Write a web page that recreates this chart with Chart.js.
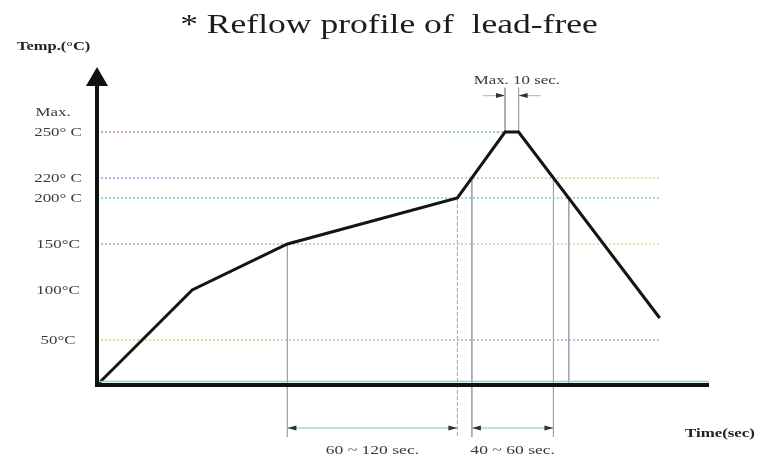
<!DOCTYPE html>
<html>
<head>
<meta charset="utf-8">
<title>Reflow profile of lead-free</title>
<script src="https://cdn.jsdelivr.net/npm/chart.js@4.4.1/dist/chart.umd.min.js"></script>
<style>
  html, body { margin: 0; padding: 0; background: #fff; }
  #box { width: 764px; height: 461px; }
</style>
</head>
<body>
<div id="box"><canvas id="perfil"></canvas></div>
<script>
// reflow profile: time (sec) and temperature (°C)
var profileTime = [0, 56, 112, 212, 240, 248, 331];
var profileTemp = [0, 100, 150, 200, 250, 250, 72];

// labels on the temperature axis
var tempTicks = [50, 100, 150, 200, 220, 250];
var tempLabels = ['50°C', '100°C', '150°C', '200° C', '220° C', '250° C'];

// dotted guide lines: temperature and the time where they stop
var guideTemp = [250, 220, 200, 150, 50];
var guideEnd = [240, 331, 331, 331, 331];
var guideLeft = ['#c4789a', '#7f9fdc', '#6ccad6', '#9aa8cc', '#d6d66c'];
var guideRight = ['#44c6c8', '#dada88', '#92c8dc', '#dedc8e', '#c892d8'];

// thin vertical marks: time, from temp, to temp
var markTime = [112, 212, 220.5, 268.5, 277.5, 240, 248];
var markTop = [150, 200, 220, 220, 200, 295, 295];
var markBottom = [-52, -52, -52, -52, 0, 250, 250];

// time windows shown under the axis
var spanStart = [112, 220.5];
var spanEnd = [212, 268.5];
var spanText = ['60 ~ 120 sec.', '40 ~ 60 sec.'];

// peak window above the curve
var peakStart = 240;
var peakEnd = 248;

// the drawing is not to scale: temperature -> height steps
var escalaT = [-60, 0, 50, 100, 150, 200, 220, 250, 320];
var escalaU = [-60, 0, 45, 95, 141, 187, 207, 253, 322];

function interp(v, from, to) {
    for (var i = 1; i < from.length; i++) {
        if (v <= from[i] || i === from.length - 1) {
            var f = (v - from[i - 1]) / (from[i] - from[i - 1]);
            return to[i - 1] + f * (to[i] - to[i - 1]);
        }
    }
}

class TempScale extends Chart.LinearScale {
    getPixelForValue(value) {
        if (value === null || isNaN(value)) return NaN;
        var lo = interp(this.min, escalaT, escalaU);
        var hi = interp(this.max, escalaT, escalaU);
        return this.getPixelForDecimal((interp(value, escalaT, escalaU) - lo) / (hi - lo));
    }
    getValueForPixel(pixel) {
        var lo = interp(this.min, escalaT, escalaU);
        var hi = interp(this.max, escalaT, escalaU);
        return interp(lo + this.getDecimalForPixel(pixel) * (hi - lo), escalaU, escalaT);
    }
}
TempScale.id = 'temp';
TempScale.defaults = {};
Chart.register(TempScale);

var SERIF = '"Liberation Serif", "Times New Roman", serif';

function gradientFor(c1, c2) {
    return function (context) {
        var chart = context.chart;
        var area = chart.chartArea;
        if (!area) return c1;
        var g = chart.ctx.createLinearGradient(area.left, 0, area.right - 60, 0);
        g.addColorStop(0, c1);
        g.addColorStop(1, c2);
        return g;
    };
}

var datasets = [{
    label: 'Reflow profile',
    data: profileTime.map(function (t, i) { return { x: t, y: profileTemp[i] }; }),
    borderColor: '#141414',
    borderWidth: 3,
    borderJoinStyle: 'miter',
    pointRadius: 0
}];

guideTemp.forEach(function (t, i) {
    datasets.push({
        data: [{ x: 0, y: t }, { x: guideEnd[i], y: t }],
        borderColor: gradientFor(guideLeft[i], guideRight[i]),
        borderWidth: 1.4,
        borderDash: [2, 2],
        pointRadius: 0
    });
});

markTime.forEach(function (t, i) {
    datasets.push({
        data: [{ x: t, y: markTop[i] }, { x: t, y: markBottom[i] }],
        borderColor: '#a2a2b2',
        borderWidth: 1,
        borderDash: i === 1 ? [4, 2] : [],
        pointRadius: 0
    });
});

function arrowHead(ctx, x, y, dir) {
    ctx.beginPath();
    ctx.moveTo(x, y);
    ctx.lineTo(x - dir * 9, y - 2.5);
    ctx.lineTo(x - dir * 9, y + 2.5);
    ctx.closePath();
    ctx.fill();
}

function dimension(ctx, xa, xb, y, color) {
    ctx.strokeStyle = color;
    ctx.lineWidth = 1.3;
    ctx.beginPath();
    ctx.moveTo(xa, y);
    ctx.lineTo(xb, y);
    ctx.stroke();
    ctx.fillStyle = '#333';
    arrowHead(ctx, xa, y, -1);
    arrowHead(ctx, xb, y, 1);
}

// the scan is wider than tall, so text is stretched sideways
function texto(ctx, str, x, y, stretch) {
    ctx.save();
    ctx.translate(x, y);
    ctx.scale(stretch, 1);
    ctx.fillText(str, 0, 0);
    ctx.restore();
}

var extras = {
    id: 'extras',
    afterDatasetsDraw: function (chart) {
        var ctx = chart.ctx, sx = chart.scales.x, sy = chart.scales.y;
        var x0 = sx.getPixelForValue(0), y0 = sy.getPixelForValue(0);
        ctx.save();

        // windows under the axis
        var yb = sy.getPixelForValue(-43);
        for (var i = 0; i < spanStart.length; i++) {
            dimension(ctx, sx.getPixelForValue(spanStart[i]), sx.getPixelForValue(spanEnd[i]), yb, '#a8dcd2');
        }

        // peak window arrows
        var yp = sy.getPixelForValue(287);
        var pa = sx.getPixelForValue(peakStart), pb = sx.getPixelForValue(peakEnd);
        ctx.strokeStyle = '#8cd4e0';
        ctx.lineWidth = 1.3;
        ctx.beginPath();
        ctx.moveTo(pa - 22, yp); ctx.lineTo(pa, yp);
        ctx.moveTo(pb, yp); ctx.lineTo(pb + 22, yp);
        ctx.stroke();
        ctx.fillStyle = '#333';
        arrowHead(ctx, pa, yp, 1);
        arrowHead(ctx, pb, yp, -1);

        // axes
        ctx.strokeStyle = '#7fd6d6';
        ctx.lineWidth = 1.5;
        ctx.beginPath();
        ctx.moveTo(x0, y0 - 3.5);
        ctx.lineTo(sx.right, y0 - 3.5);
        ctx.stroke();

        ctx.strokeStyle = '#111';
        ctx.lineWidth = 4;
        ctx.beginPath();
        ctx.moveTo(x0 - 2, y0);
        ctx.lineTo(sx.right, y0);
        ctx.moveTo(x0, y0 + 2);
        ctx.lineTo(x0, 84);
        ctx.stroke();
        ctx.fillStyle = '#111';
        ctx.beginPath();
        ctx.moveTo(x0, 67);
        ctx.lineTo(x0 - 11, 86);
        ctx.lineTo(x0 + 11, 86);
        ctx.closePath();
        ctx.fill();
        ctx.restore();
    },
    afterDraw: function (chart) {
        var ctx = chart.ctx, sx = chart.scales.x, sy = chart.scales.y;
        ctx.save();
        ctx.textAlign = 'center';
        ctx.textBaseline = 'alphabetic';

        ctx.fillStyle = '#1c1c1c';
        ctx.font = '28px ' + SERIF;
        texto(ctx, '* Reflow profile of  lead-free', 389, 33, 1.27);

        ctx.fillStyle = '#3a3a3a';
        ctx.font = '13px ' + SERIF;
        tempTicks.forEach(function (t, i) {
            texto(ctx, tempLabels[i], 58, sy.getPixelForValue(t) + 4, 1.3);
        });
        texto(ctx, 'Max.', 53, sy.getPixelForValue(250) - 16, 1.3);

        ctx.font = '12.5px ' + SERIF;
        texto(ctx, 'Max. 10 sec.', (sx.getPixelForValue(peakStart) + sx.getPixelForValue(peakEnd)) / 2 + 5, 84, 1.35);

        ctx.font = '13.5px ' + SERIF;
        for (var i = 0; i < spanStart.length; i++) {
            var xm = (sx.getPixelForValue(spanStart[i]) + sx.getPixelForValue(spanEnd[i])) / 2;
            texto(ctx, spanText[i], xm, 454, 1.3);
        }

        ctx.fillStyle = '#222';
        ctx.font = 'bold 12.5px ' + SERIF;
        ctx.textAlign = 'left';
        texto(ctx, 'Temp.(°C)', 17, 50, 1.32);
        texto(ctx, 'Time(sec)', 685, 437, 1.35);
        ctx.restore();
    }
};

new Chart(document.getElementById('perfil'), {
    type: 'line',
    data: { datasets: datasets },
    options: {
        responsive: true,
        maintainAspectRatio: false,
        animation: false,
        layout: { padding: { left: 97, right: 55, top: 63, bottom: 16 } },
        plugins: {
            legend: { display: false },
            tooltip: { enabled: false },
            title: { display: false }
        },
        scales: {
            x: { type: 'linear', min: 0, max: 360, display: false },
            y: { type: 'temp', min: -60, max: 320, display: false }
        }
    },
    plugins: [extras]
});
</script>
</body>
</html>
